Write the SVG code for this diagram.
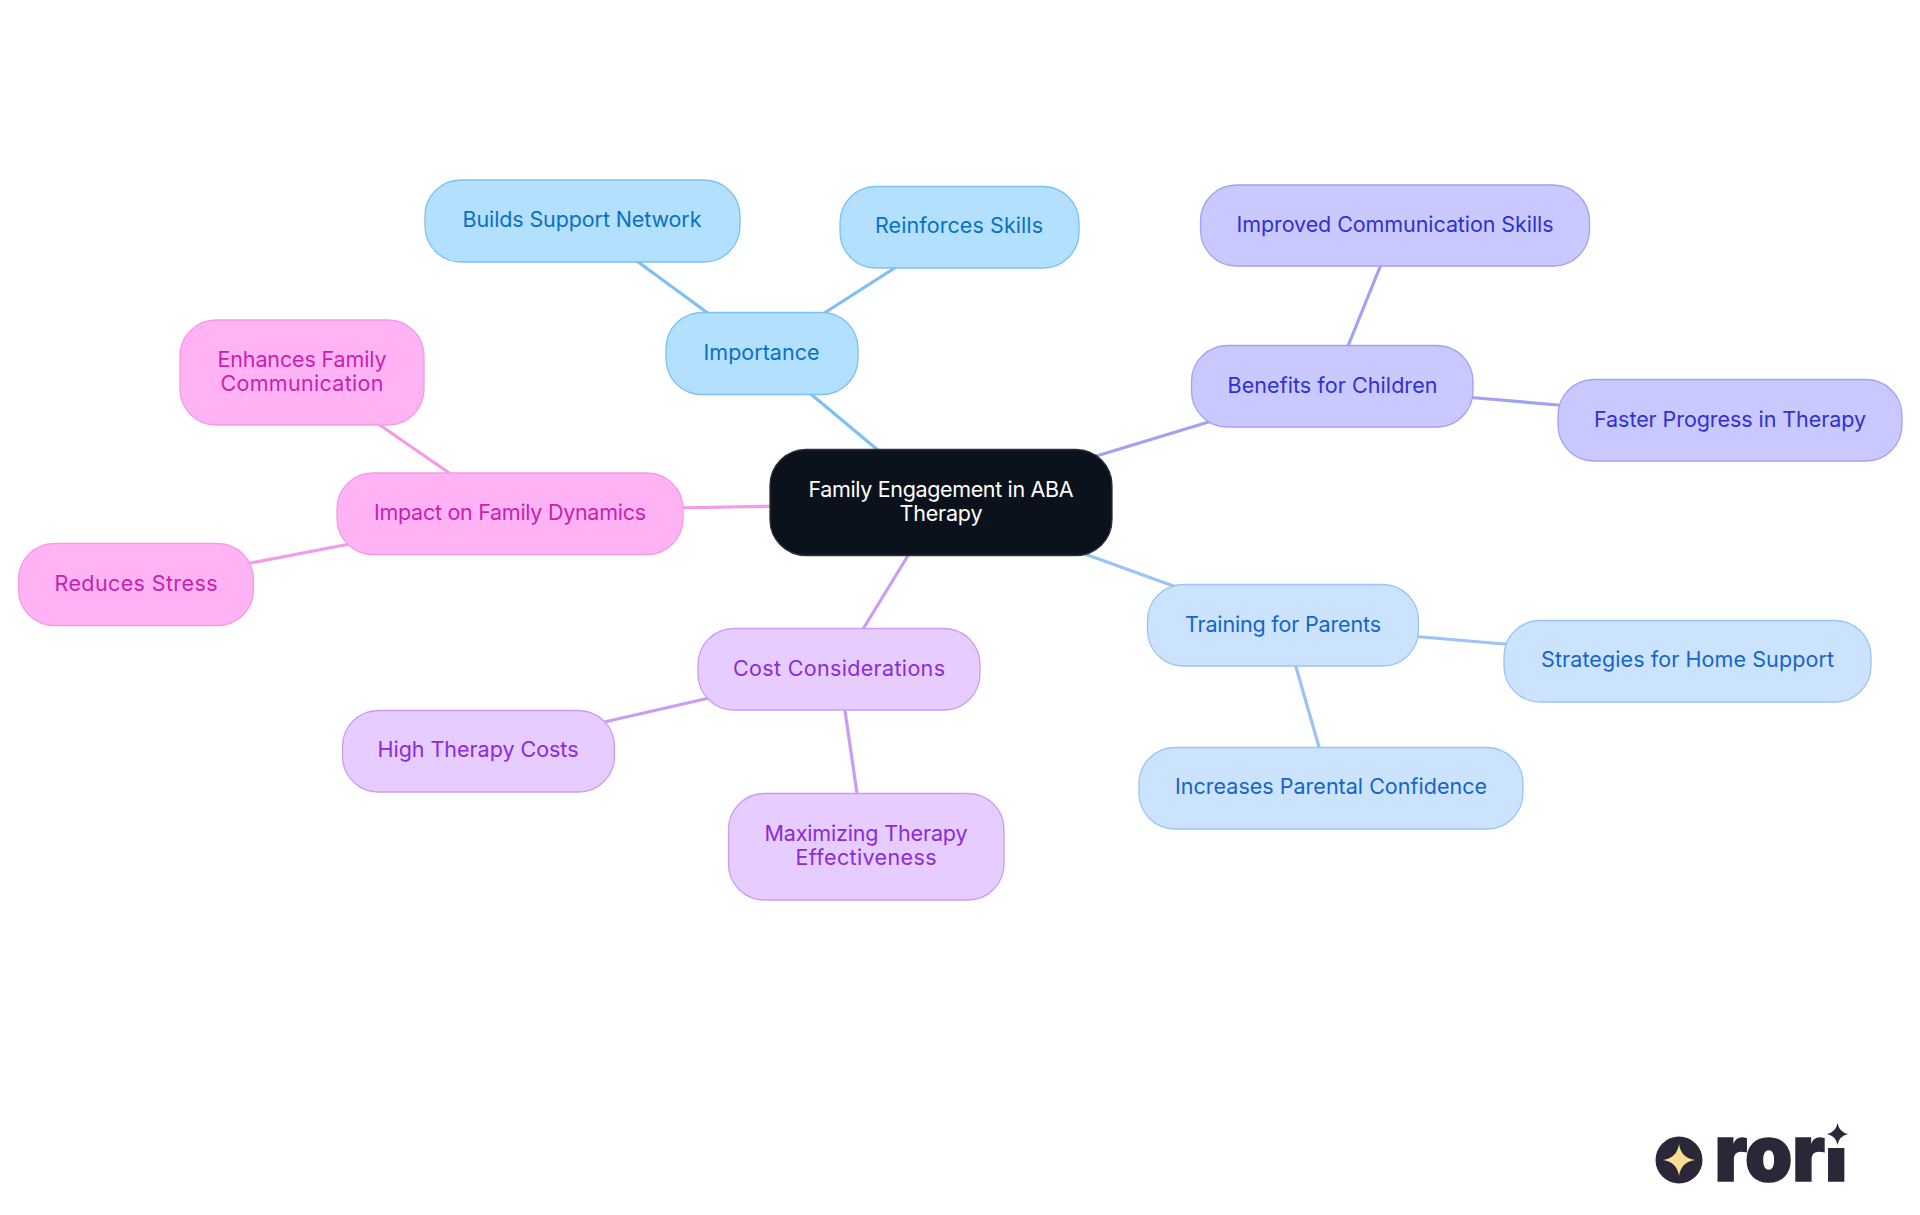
<svg xmlns="http://www.w3.org/2000/svg" width="1920" height="1215" viewBox="0 0 1920 1215">
<style>
text{font-family:"Inter","Noto Sans","Liberation Sans",sans-serif;font-size:21.5px;font-weight:380;text-anchor:middle}
rect{stroke-width:1.3}
#connectors line{stroke-width:3.2;fill:none}
.a rect{fill:#b3e0ff;stroke:#7cc1f2}.a text{fill:#0a70c2}
.b rect{fill:#c9c9ff;stroke:#a1a1f5}.b text{fill:#3030d2}
.c rect{fill:#cce3fd;stroke:#99c4f5}.c text{fill:#1565c8}
.d rect{fill:#e6ccff;stroke:#cb9bf5}.d text{fill:#8a2bd8}
.e rect{fill:#ffb3f5;stroke:#f59ae6}.e text{fill:#c81fb0}
</style>
<rect width="1920" height="1215" fill="#fff" style="stroke:none"/>
<g id="connectors">
<g stroke="#7cc1f2"><line x1="800" y1="385" x2="885" y2="456"/><line x1="735" y1="333" x2="630" y2="256"/><line x1="790" y1="335" x2="904" y2="262"/></g>
<g stroke="#a1a1f5"><line x1="1070" y1="464" x2="1225" y2="417"/><line x1="1348" y1="346" x2="1382" y2="262"/><line x1="1465" y1="397" x2="1570" y2="406"/></g>
<g stroke="#99c4f5"><line x1="1060" y1="545" x2="1190" y2="592"/><line x1="1410" y1="636" x2="1516" y2="645"/><line x1="1294" y1="660" x2="1321" y2="754"/></g>
<g stroke="#cb9bf5"><line x1="912" y1="549" x2="860" y2="634"/><line x1="718" y1="696" x2="600" y2="723"/><line x1="844" y1="704" x2="858" y2="800"/></g>
<g stroke="#f59ae6"><line x1="780" y1="506" x2="672" y2="508"/><line x1="455" y1="477" x2="374" y2="421"/><line x1="360" y1="542" x2="240" y2="565"/></g>
</g>
<g id="root"><rect x="770" y="449.500" width="342" height="106" rx="36" fill="#0b121b" stroke="#2b3036"/><text x="941" y="497" fill="#fff" textLength="265">Family Engagement in ABA</text><text x="941" y="521" fill="#fff" textLength="83">Therapy</text></g>
<g id="importance" class="a"><rect x="666" y="312.500" width="192" height="82" rx="36"/><text x="761.500" y="360" textLength="116">Importance</text></g>
<g id="builds" class="a"><rect x="425" y="180" width="315" height="82" rx="36"/><text x="582" y="227" textLength="239">Builds Support Network</text></g>
<g id="reinforces" class="a"><rect x="840" y="186.500" width="239" height="81.500" rx="36"/><text x="959" y="233" textLength="168">Reinforces Skills</text></g>
<g id="benefits" class="b"><rect x="1191.500" y="345.500" width="281.500" height="81.500" rx="36"/><text x="1332.500" y="393" textLength="210">Benefits for Children</text></g>
<g id="improved" class="b"><rect x="1200.500" y="185" width="389" height="81" rx="36"/><text x="1395" y="232" textLength="317">Improved Communication Skills</text></g>
<g id="faster" class="b"><rect x="1558" y="379.500" width="344" height="81.500" rx="36"/><text x="1730" y="427" textLength="272">Faster Progress in Therapy</text></g>
<g id="training" class="c"><rect x="1147.500" y="584.500" width="271" height="81.500" rx="36"/><text x="1283" y="632" textLength="196">Training for Parents</text></g>
<g id="strategies" class="c"><rect x="1504" y="620.500" width="367" height="81.500" rx="36"/><text x="1687.500" y="667" textLength="293">Strategies for Home Support</text></g>
<g id="increases" class="c"><rect x="1139" y="747.500" width="384" height="81.500" rx="36"/><text x="1331" y="794" textLength="312">Increases Parental Confidence</text></g>
<g id="cost" class="d"><rect x="698" y="628.500" width="282" height="81.500" rx="36"/><text x="839" y="676" textLength="212">Cost Considerations</text></g>
<g id="high" class="d"><rect x="342.500" y="710.500" width="272" height="81.500" rx="36"/><text x="478" y="757" textLength="201">High Therapy Costs</text></g>
<g id="maximizing" class="d"><rect x="728.500" y="793.500" width="275.500" height="106.500" rx="36"/><text x="866" y="841" textLength="203">Maximizing Therapy</text><text x="866" y="865" textLength="141">Effectiveness</text></g>
<g id="impact" class="e"><rect x="337" y="473" width="346" height="81.500" rx="36"/><text x="510" y="520" textLength="272">Impact on Family Dynamics</text></g>
<g id="enhances" class="e"><rect x="180" y="320" width="244" height="105" rx="36"/><text x="302" y="367" textLength="169">Enhances Family</text><text x="302" y="391" textLength="163">Communication</text></g>
<g id="reduces" class="e"><rect x="18.500" y="543.500" width="235" height="82" rx="36"/><text x="136" y="591" textLength="163">Reduces Stress</text></g>
<g id="logo">
<circle cx="1679" cy="1160" r="23.500" fill="#2a2838"/>
<path d="M1679 1144q2 14 16 16q-14 2-16 16q-2-14-16-16q14-2 16-16z" fill="#fddc94"/>
<text x="1781" y="1181" textLength="133" lengthAdjust="spacingAndGlyphs" stroke="#2a2838" stroke-width="1.500" style="font-size:78px;font-weight:900;fill:#2a2838">rori</text>
<rect x="1828" y="1110" width="26" height="38" fill="#fff" style="stroke:none"/>
<path d="M1837.500 1123q1.500 9 10.500 11q-9 2-10.500 11q-1.500-9-10.500-11q9-2 10.500-11z" fill="#2a2838"/>
</g>
</svg>
